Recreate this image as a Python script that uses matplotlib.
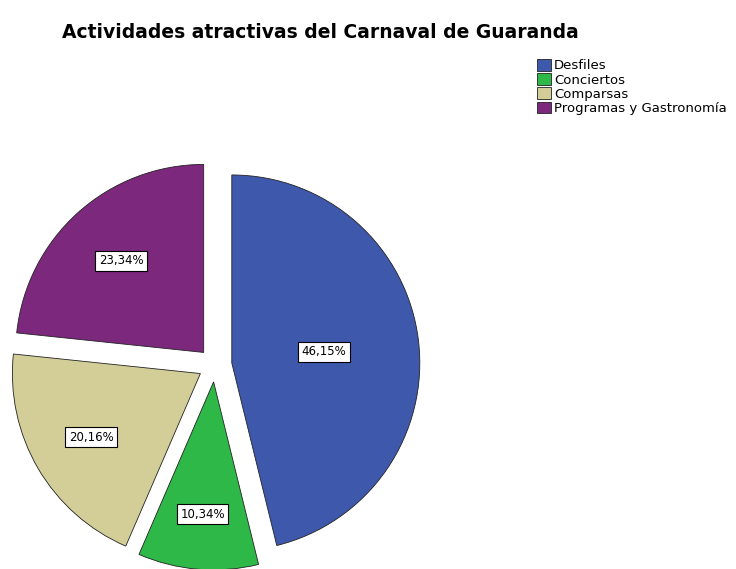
import numpy as np
import matplotlib.pyplot as plt

# datos del grafico
actividades = ['Desfiles', 'Conciertos', 'Comparsas', 'Programas y Gastronomía']
porcentajes = [46.15, 10.34, 20.16, 23.34]
etiquetas = ['46,15%', '10,34%', '20,16%', '23,34%']
colores = ['#3E58AC', '#2EB848', '#D3CE97', '#7C287D']

fig = plt.figure(figsize=(7.36, 5.69), dpi=100)
ax = fig.add_axes([0, 0, 1, 1])

wedges, _ = ax.pie(porcentajes, colors=colores, startangle=90, counterclock=False,
                   explode=[0.09] * 4, radius=1,
                   wedgeprops=dict(edgecolor='#222222', linewidth=0.6))

# etiquetas cerca del centroide de cada sector
for w, txt in zip(wedges, etiquetas):
    a = np.deg2rad(w.theta2 - w.theta1) / 2
    mid = np.deg2rad((w.theta1 + w.theta2) / 2)
    d = 1.08 * 2 * w.r * np.sin(a) / (3 * a)
    cx, cy = w.center
    ax.text(cx + d * np.cos(mid), cy + d * np.sin(mid), txt, ha='center', va='center',
            fontsize=8.5, bbox=dict(facecolor='white', edgecolor='black', linewidth=0.8, pad=2.5))

# escala: 1 unidad = 188 px, centro en (215, 365)
px = 188.0
ax.set_xlim(-215 / px, (736 - 215) / px)
ax.set_ylim(-(569 - 365) / px, 365 / px)
ax.set_aspect('auto')
ax.axis('off')

fig.text(62 / 736, 1 - 33 / 569, 'Actividades atractivas del Carnaval de Guaranda',
         fontsize=13.5, fontweight='semibold', ha='left', va='center')

fig.legend(wedges, actividades, loc='upper left', bbox_to_anchor=(537 / 736, 1 - 59 / 569),
           frameon=False, fontsize=9.5, handlelength=1.05, handleheight=1.0,
           handletextpad=0.25, labelspacing=0.06, borderpad=0, borderaxespad=0)

fig.savefig('out.png', dpi=100)
